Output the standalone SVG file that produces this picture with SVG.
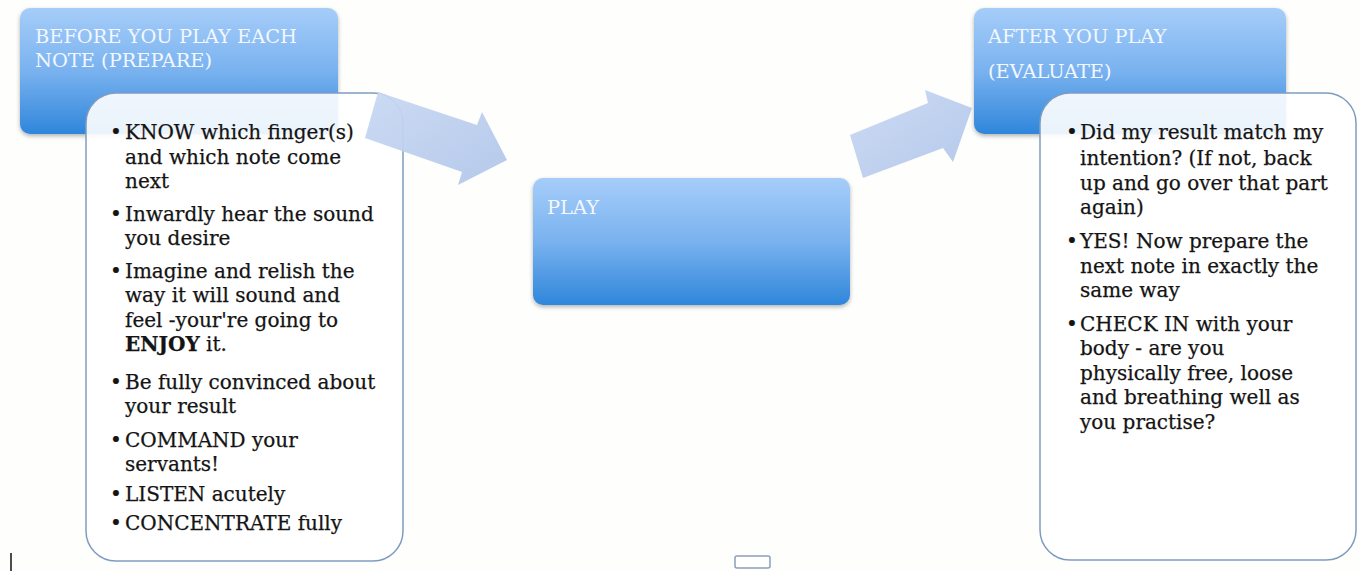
<svg xmlns="http://www.w3.org/2000/svg" width="1359" height="571" viewBox="0 0 1359 571">
<defs>
<linearGradient id="hdr" x1="0" y1="0" x2="0" y2="1">
<stop offset="0" stop-color="#a6cdf9"/>
<stop offset="0.5" stop-color="#79b2ef"/>
<stop offset="1" stop-color="#2f86db"/>
</linearGradient>
<linearGradient id="arr" x1="0" y1="0" x2="1" y2="1">
<stop offset="0" stop-color="#c9d9f3"/>
<stop offset="1" stop-color="#b2c6ea"/>
</linearGradient>
<filter id="sh" x="-10%" y="-10%" width="120%" height="130%">
<feDropShadow dx="0" dy="2" stdDeviation="2" flood-color="#000" flood-opacity="0.3"/>
</filter>
</defs>
<style>
.hdr{fill:url(#hdr);filter:url(#sh)}
.ht{font-family:"DejaVu Serif","Liberation Serif",serif;font-size:19.4px;fill:#f3f7ff}
.box{fill:#ffffff;fill-opacity:0.9;stroke:#7f9cc0;stroke-width:1.5}
.bt{font-family:"DejaVu Serif","Liberation Serif",serif;font-size:20px;fill:#141414;stroke:#141414;stroke-width:0.25}
.arrow{fill:url(#arr);opacity:0.95}
</style>
<rect width="1359" height="571" fill="#fefefc"/>

<g id="before-header">
<rect class="hdr" x="20" y="8" width="318" height="126" rx="10"/>
<text class="ht" x="35" y="43">BEFORE YOU PLAY EACH</text>
<text class="ht" x="35" y="67">NOTE (PREPARE)</text>
</g>

<g id="before-list">
<rect class="box" x="86" y="93" width="317" height="468" rx="30"/>
<g class="bt">
<text x="110" y="139">•</text><text x="125" y="139">KNOW which finger(s)</text>
<text x="125" y="164">and which note come</text>
<text x="125" y="188">next</text>
<text x="110" y="221">•</text><text x="125" y="221">Inwardly hear the sound</text>
<text x="125" y="245">you desire</text>
<text x="110" y="278">•</text><text x="125" y="278">Imagine and relish the</text>
<text x="125" y="302">way it will sound and</text>
<text x="125" y="327">feel -your're going to</text>
<text x="125" y="351"><tspan font-weight="bold">ENJOY</tspan> it.</text>
<text x="110" y="389">•</text><text x="125" y="389">Be fully convinced about</text>
<text x="125" y="413">your result</text>
<text x="110" y="447">•</text><text x="125" y="447">COMMAND your</text>
<text x="125" y="471">servants!</text>
<text x="110" y="501">•</text><text x="125" y="501">LISTEN acutely</text>
<text x="110" y="530">•</text><text x="125" y="530">CONCENTRATE fully</text>
</g>
</g>

<g id="play">
<rect class="hdr" x="533" y="178" width="317" height="127" rx="10"/>
<text class="ht" x="547" y="214">PLAY</text>
</g>

<g id="connectors">
<polygon class="arrow" points="378,92 477,125 482,112 507,160 458,185 462,172 365,138"/>
<polygon class="arrow" points="850,135 928,103 925,90 972,108 953,162 943,148 863,178"/>
</g>

<g id="after-header">
<rect class="hdr" x="974" y="8" width="312" height="126" rx="10"/>
<text class="ht" x="988" y="43">AFTER YOU PLAY</text>
<text class="ht" x="988" y="78">(EVALUATE)</text>
</g>

<g id="after-list">
<rect class="box" x="1040" y="93" width="316" height="467" rx="30"/>
<g class="bt">
<text x="1066" y="139">•</text><text x="1080" y="139">Did my result match my</text>
<text x="1080" y="165">intention? (If not, back</text>
<text x="1080" y="190">up and go over that part</text>
<text x="1080" y="214">again)</text>
<text x="1066" y="248">•</text><text x="1080" y="248">YES! Now prepare the</text>
<text x="1080" y="273">next note in exactly the</text>
<text x="1080" y="297">same way</text>
<text x="1066" y="331">•</text><text x="1080" y="331">CHECK IN with your</text>
<text x="1080" y="355">body - are you</text>
<text x="1080" y="380">physically free, loose</text>
<text x="1080" y="404">and breathing well as</text>
<text x="1080" y="429">you practise?</text>
</g>
</g>

<g id="small-box">
<rect x="735" y="556" width="35" height="12" rx="2" fill="#ffffff" stroke="#8aa0b8" stroke-width="1.5"/>
</g>
<line x1="11" y1="553" x2="11" y2="571" stroke="#111" stroke-width="1.5"/>
</svg>
